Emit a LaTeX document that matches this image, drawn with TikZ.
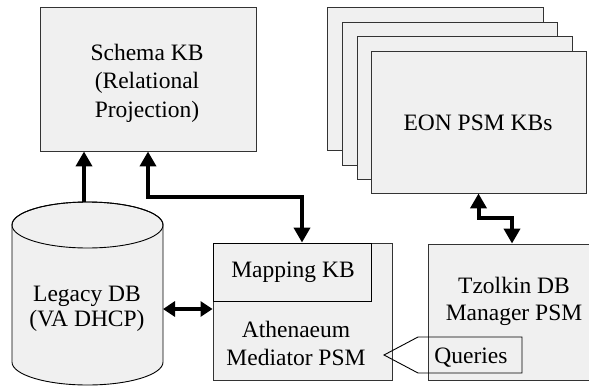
\documentclass[tikz,border=0pt]{standalone}
\usepackage{fontspec}
\setmainfont{Liberation Serif}
\usetikzlibrary{arrows.meta}
\definecolor{boxfill}{HTML}{F0F0F0}
\definecolor{boxline}{HTML}{333333}
\tikzset{
  boxnode/.style={draw=boxline, fill=boxfill, line width=0.9pt, rectangle, inner sep=0pt},
  lbl/.style={font=\fontsize{23.5}{28.5}\selectfont, align=center, inner sep=0pt},
  conn/.style={line width=4pt},
  bigtip/.style={conn, {Triangle[length=15pt,width=16pt]}-{Triangle[length=15pt,width=16pt]}},
  uptip/.style={conn, -{Triangle[length=15pt,width=16pt]}},
  smalltip/.style={conn, {Triangle[length=12pt,width=15pt]}-{Triangle[length=12pt,width=15pt]}}
}
\begin{document}
\begin{tikzpicture}[x=1pt,y=-1pt]
\useasboundingbox (0,0) rectangle (589,386);
\clip (0,0) rectangle (589,386);
% Schema KB
\node[boxnode, minimum width=216pt, minimum height=144pt] (schema) at (148,79) {};
\node[lbl] (schematxt) at (147,83) {Schema KB\\(Relational\\Projection)};
% EON stack
\draw[draw=boxline, fill=boxfill, line width=0.9pt] (327,7) rectangle (543,150);
\draw[draw=boxline, fill=boxfill, line width=0.9pt] (342,22) rectangle (557,165);
\draw[draw=boxline, fill=boxfill, line width=0.9pt] (357,36) rectangle (572,179);
\node[boxnode, minimum width=215pt, minimum height=142pt] (eon) at (478.5,122) {};
\node[lbl] (eontxt) at (478,123) {EON PSM KBs};
% Legacy DB cylinder
\filldraw[draw=black, fill=boxfill, line width=0.9pt]
  (12,225) -- (12,362) arc[start angle=180, end angle=360, x radius=75.5pt, y radius=23pt]
  -- (163,225) arc[start angle=0, end angle=180, x radius=75.5pt, y radius=23pt] -- cycle;
\draw[line width=0.9pt] (87.5,225) ellipse [x radius=75.5pt, y radius=23pt];
\node[inner sep=0pt, minimum width=151pt, minimum height=184pt] (legacy) at (87.5,293) {};
\node[lbl, font=\fontsize{23.5}{25}\selectfont] (legacytxt) at (87,309) {Legacy DB\\(VA DHCP)};
% Athenaeum mediator
\node[boxnode, minimum width=179pt, minimum height=137pt] (athena) at (302.5,311.5) {};
\node[draw=black, fill=boxfill, line width=0.9pt, inner sep=0pt, minimum width=158pt, minimum height=58pt] (mapkb) at (292,272) {};
\node[lbl] (mapkbtxt) at (293,272.5) {Mapping KB};
\node[lbl, font=\fontsize{23.5}{28}\selectfont] (athenatxt) at (296,343.5) {Athenaeum\\Mediator PSM};
% Tzolkin
\node[boxnode, minimum width=172pt, minimum height=136pt] (tzolkin) at (514,312) {};
\node[lbl, font=\fontsize{23.5}{27}\selectfont] (tzolkintxt) at (514,301) {Tzolkin DB\\Manager PSM};
% Queries callout
\node[lbl] (queries) at (471,357.5) {Queries};
\draw[draw=black, line width=0.9pt] (384,355) -- (418,337) -- (522,337) -- (522,373) -- (418,373) -- cycle;
% Connectors
\coordinate (cyltop) at (84,202);
\draw[uptip] (cyltop) -- (cyltop |- schema.south);
\coordinate (j1) at (302,197);
\draw[bigtip] (schema.south) |- (j1) -- (j1 |- athena.north);
\coordinate (lp) at (163,309);
\draw[smalltip] (lp) -- (lp -| athena.west);
\coordinate (j2) at (512,218);
\draw[bigtip] (eon.south) |- (j2) -- (j2 |- tzolkin.north);
\end{tikzpicture}
\end{document}
